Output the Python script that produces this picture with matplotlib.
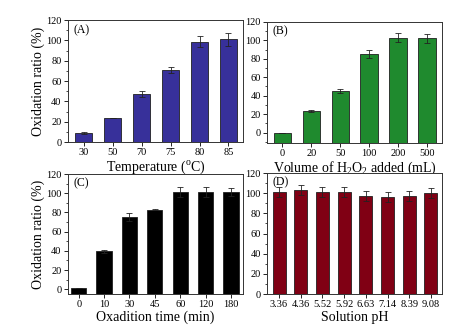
import numpy as np
import matplotlib
matplotlib.use("Agg")
import matplotlib.pyplot as plt
from matplotlib.ticker import MultipleLocator

plt.rcParams['font.family'] = ['Liberation Serif', 'DejaVu Serif']
plt.rcParams['mathtext.fontset'] = 'custom'
plt.rcParams['mathtext.rm'] = 'Liberation Serif'

# (A) temperature
temp = ['30', '50', '70', '75', '80', '85']
temp_val = [9, 24, 47, 71, 99, 101]
temp_err = [0.8, 0, 3, 3, 5, 6]

# (B) H2O2 volume
vol = ['0', '20', '50', '100', '200', '500']
vol_val = [0, 23, 45, 85, 103, 102]
vol_err = [0, 1, 2.5, 4, 4.5, 5]

# (C) oxidation time
tm = ['0', '10', '30', '45', '60', '120', '180']
tm_val = [1, 39.5, 75, 83, 101.5, 101, 101.5]
tm_err = [0, 1.5, 4, 0.5, 5, 5, 4]

# (D) solution pH
ph = ['3.36', '4.36', '5.52', '5.92', '6.63', '7.14', '8.39', '9.08']
ph_val = [101, 103, 101.5, 101, 97.5, 96, 97.5, 100.5]
ph_err = [5, 5, 5, 5, 5, 5, 5, 5]

fig = plt.figure(figsize=(4.55, 3.36), dpi=100)

panels = [
    ([0.149, 0.577, 0.385, 0.363], temp, temp_val, temp_err, '#37309a', (0, 120), (-0.55, 5.5),
     'Temperature ($^{\\rm o}$C)', '(A)', True),
    ([0.587, 0.575, 0.385, 0.360], vol, vol_val, vol_err, '#1f8a2e', (-11, 120), (-0.53, 5.53),
     'Volume of H$_2$O$_2$ added (mL)', '(B)', False),
    ([0.149, 0.125, 0.385, 0.357], tm, tm_val, tm_err, '#000000', (-5, 120), (-0.43, 6.47),
     'Oxadition time (min)', '(C)', True),
    ([0.587, 0.125, 0.385, 0.360], ph, ph_val, ph_err, '#800014', (0, 120), (-0.55, 7.52),
     'Solution pH', '(D)', False),
]

for rect, cats, vals, errs, col, ylim, xlim, xlab, tag, ylab in panels:
    ax = fig.add_axes(rect)
    x = np.arange(len(cats))
    # bars rise from the bottom of the axis, so a zero value still shows a stub
    base = ylim[0]
    heights = np.array(vals) - base
    ax.bar(x, heights, bottom=base, width=0.6, color=col, edgecolor='#202020', linewidth=0.6)
    ax.errorbar(x, vals, yerr=errs, fmt='none', ecolor='#222222', elinewidth=0.6,
                capsize=2, capthick=0.6)
    ax.set_xticks(x)
    ax.set_xticklabels(cats)
    ax.set_ylim(*ylim)
    ax.set_xlim(*xlim)
    ax.yaxis.set_major_locator(MultipleLocator(20))
    ax.yaxis.set_minor_locator(MultipleLocator(10))
    ax.tick_params(axis='both', which='major', direction='out', length=3, width=0.6,
                   labelsize=7.5, pad=1.5)
    ax.tick_params(axis='y', which='minor', direction='out', length=1.8, width=0.5)
    for s in ax.spines.values():
        s.set_linewidth(0.7)
        s.set_color('#333333')
    ax.set_xlabel(xlab, fontsize=10, labelpad=1)
    if ylab:
        ax.set_ylabel('Oxidation ratio (%)', fontsize=10, labelpad=1)
    ax.text(0.03, 0.97, tag, transform=ax.transAxes, ha='left', va='top', fontsize=8.5)

fig.savefig('out.png', dpi=100)
